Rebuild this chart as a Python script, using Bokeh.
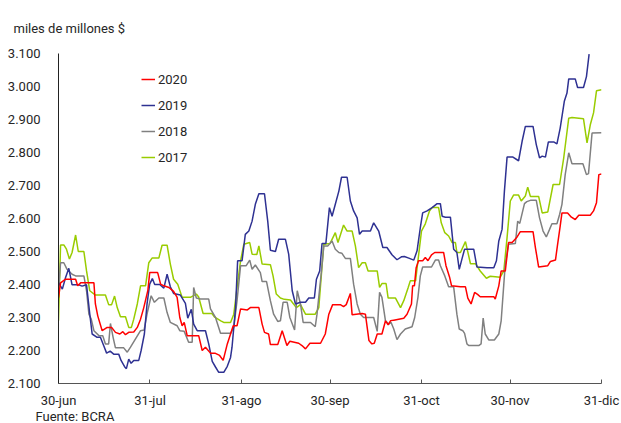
from bokeh.plotting import figure
from bokeh.models import FixedTicker, Legend, LegendItem, Range1d, Title
from bokeh.embed import file_html
from bokeh.resources import INLINE

# x = days since 30-jun
x_ticks = [0, 31, 62, 92, 123, 153, 184]
x_labels = ["30-jun", "31-jul", "31-ago", "30-sep", "31-oct", "30-nov", "31-dic"]
y_ticks = [2100, 2200, 2300, 2400, 2500, 2600, 2700, 2800, 2900, 3000, 3100]
y_labels = ["2.100", "2.200", "2.300", "2.400", "2.500", "2.600", "2.700", "2.800", "2.900", "3.000", "3.100"]

days_2020 = [0, 0.7, 2.4, 5.8, 6.5, 7.5, 12, 12.5, 13.3, 14.8, 16.5, 18, 19.3, 20.8, 21.8, 22.7, 23.8, 25.5, 26.7, 27.8, 28.9, 30.3, 30.9, 33.6, 34.6, 35.7, 37.4, 39, 40.2, 41.1, 41.9, 42.6, 43.6, 47.5, 48.7, 49.8, 51.5, 53, 54.6, 55.8, 57.2, 58.3, 59.2, 60.5, 61.7, 64, 65, 67.9, 69, 69.8, 71.2, 71.8, 74.3, 75.8, 77.4, 78.4, 81.4, 82.5, 83.7, 85.2, 88.8, 90.4, 91.6, 92.9, 95.5, 96.6, 97.5, 98.9, 99.5, 102.9, 104, 104.6, 105.2, 106.2, 107, 108, 109.6, 110.8, 111.7, 112.5, 113.6, 117, 118.1, 119.6, 120, 120.6, 121.2, 122, 123.4, 124.3, 125.2, 126.4, 127.5, 130.5, 131.3, 132.5, 133.2, 136.2, 137.9, 138.7, 139.8, 141, 142, 142.9, 147.5, 148, 149.2, 150, 151.4, 152.5, 153.7, 154.5, 155.4, 156.5, 160.8, 161.6, 162.7, 165.8, 166.7, 168.4, 169.1, 170, 170.6, 172.5, 173.8, 175.1, 176.3, 180.2, 181.3, 182.3, 183.1, 184]
vals_2020 = [2360, 2405, 2416, 2416, 2396, 2405, 2405, 2341, 2305, 2260, 2270, 2270, 2255, 2250, 2257, 2248, 2255, 2256, 2270, 2295, 2330, 2383, 2436, 2436, 2401, 2396, 2391, 2379, 2361, 2300, 2275, 2285, 2245, 2245, 2200, 2210, 2192, 2192, 2185, 2170, 2220, 2250, 2275, 2275, 2326, 2323, 2330, 2330, 2280, 2255, 2250, 2218, 2218, 2260, 2215, 2228, 2222, 2215, 2205, 2222, 2222, 2250, 2310, 2339, 2339, 2333, 2339, 2373, 2308, 2312, 2310, 2270, 2230, 2220, 2222, 2250, 2250, 2290, 2278, 2290, 2292, 2298, 2310, 2341, 2396, 2396, 2451, 2472, 2472, 2482, 2472, 2490, 2497, 2497, 2457, 2423, 2396, 2393, 2393, 2359, 2341, 2376, 2370, 2363, 2363, 2356, 2396, 2441, 2441, 2527, 2527, 2535, 2544, 2560, 2560, 2512, 2453, 2457, 2470, 2474, 2520, 2577, 2617, 2617, 2604, 2597, 2610, 2610, 2623, 2648, 2733, 2735]

days_2019 = [0, 1.3, 2.4, 3.5, 4.6, 6.9, 8, 9.5, 10.6, 11.4, 13.1, 14.2, 15.3, 16.3, 17.5, 18.7, 20.4, 21.2, 22.4, 23, 23.8, 24.6, 25.5, 27.2, 28, 29.1, 30, 30.9, 31.8, 32.6, 34.3, 35.7, 36.8, 37.9, 39, 41.3, 43, 43.8, 45, 45.8, 47, 49.8, 50.9, 52.1, 53.2, 54.3, 56, 57.2, 58.3, 58.8, 60, 60.7, 62.2, 63.3, 64.5, 65.6, 66.7, 67.9, 69.8, 70.9, 71.8, 73.5, 74.6, 76.9, 78, 79.2, 80.3, 82, 83.7, 84.8, 86.7, 87.4, 88.5, 89.3, 90.6, 91.8, 92.7, 93.8, 95, 95.9, 97.8, 98.9, 100, 101.2, 102, 102.9, 105.7, 106.8, 108.5, 109.9, 111.3, 113, 114.7, 116.2, 117.2, 118.7, 120.4, 121.5, 122.6, 123.4, 124.9, 126.6, 128.3, 129.4, 130, 131.1, 132.8, 133.9, 135, 135.8, 136.7, 137.6, 140.7, 141.8, 145.2, 147.5, 148.4, 149.2, 150.3, 151.1, 152, 154, 155.9, 157.1, 158.2, 160.8, 161.9, 163, 163.9, 165, 166, 167.8, 168.9, 170, 171.4, 172.3, 172.9, 175.1, 175.9, 177.9, 178.9, 179.8]
vals_2019 = [2406, 2386, 2421, 2449, 2399, 2399, 2395, 2399, 2310, 2250, 2240, 2240, 2215, 2192, 2198, 2189, 2189, 2170, 2151, 2145, 2174, 2161, 2170, 2170, 2200, 2250, 2341, 2401, 2418, 2400, 2400, 2389, 2431, 2393, 2373, 2368, 2343, 2298, 2325, 2280, 2260, 2260, 2220, 2167, 2150, 2134, 2134, 2152, 2179, 2210, 2330, 2472, 2472, 2552, 2562, 2592, 2643, 2675, 2675, 2592, 2504, 2500, 2537, 2537, 2492, 2381, 2341, 2346, 2346, 2359, 2359, 2416, 2441, 2524, 2524, 2633, 2607, 2643, 2683, 2725, 2725, 2653, 2623, 2602, 2552, 2562, 2562, 2587, 2562, 2512, 2512, 2490, 2475, 2484, 2485, 2480, 2474, 2502, 2572, 2617, 2623, 2633, 2645, 2645, 2607, 2604, 2604, 2507, 2497, 2446, 2477, 2507, 2507, 2453, 2451, 2451, 2472, 2532, 2567, 2683, 2786, 2786, 2775, 2834, 2879, 2879, 2824, 2784, 2789, 2786, 2832, 2832, 2826, 2874, 2955, 2980, 3023, 3023, 2997, 2997, 3030, 3098]

days_2018 = [0, 0.7, 1.8, 2.9, 4.6, 5.8, 8.6, 9.5, 10.3, 11.1, 12, 13.7, 15, 15.9, 17, 17.6, 18.5, 19.3, 22.1, 23.3, 24.4, 26.1, 27.8, 29, 30, 31.4, 32.5, 34, 35.7, 36.8, 37.9, 40.2, 41.1, 42.6, 44.1, 45.3, 45.8, 46.7, 48.1, 50.9, 51.5, 53.2, 54.9, 58.3, 59.4, 60.5, 61.7, 63.6, 64.8, 65.6, 66.7, 68.4, 69, 70.5, 71.8, 72.9, 74.3, 75.2, 76.1, 77.5, 78.4, 80, 80.9, 82, 82.9, 85.4, 87, 87.6, 89, 89.9, 91.3, 92.7, 93.8, 95, 96, 97.2, 98.9, 100, 101.2, 102.3, 103.4, 106.8, 108, 108.8, 109.6, 110.8, 111.9, 112.7, 113.6, 114.7, 115.9, 117.5, 119.8, 120.7, 121.8, 122.6, 123.4, 126.4, 127.7, 128.8, 129.4, 130.9, 132.2, 133.9, 135, 135.8, 137, 137.6, 138.4, 139, 142.4, 143.2, 143.9, 144.6, 145.8, 147.7, 149.2, 150, 150.9, 151.4, 152.5, 154.8, 155.6, 156.3, 157.9, 158.7, 159.9, 161.9, 163, 164.2, 165.3, 166.4, 167.2, 168.9, 169.8, 170.6, 171.7, 172.9, 174, 177.7, 178.9, 179.6, 180.8, 184]
vals_2018 = [2380, 2466, 2466, 2446, 2431, 2426, 2426, 2381, 2310, 2295, 2260, 2245, 2245, 2220, 2220, 2282, 2240, 2208, 2208, 2195, 2210, 2235, 2260, 2262, 2310, 2366, 2346, 2359, 2359, 2315, 2285, 2275, 2260, 2258, 2225, 2225, 2391, 2359, 2356, 2356, 2326, 2300, 2252, 2252, 2270, 2351, 2457, 2457, 2474, 2446, 2459, 2436, 2409, 2409, 2351, 2310, 2288, 2290, 2346, 2346, 2300, 2262, 2381, 2341, 2285, 2285, 2272, 2310, 2431, 2517, 2517, 2532, 2507, 2497, 2495, 2479, 2479, 2401, 2341, 2310, 2300, 2300, 2258, 2376, 2361, 2290, 2280, 2285, 2265, 2233, 2250, 2265, 2272, 2300, 2361, 2426, 2453, 2453, 2474, 2474, 2457, 2426, 2393, 2393, 2310, 2265, 2260, 2252, 2220, 2215, 2215, 2220, 2298, 2250, 2232, 2232, 2250, 2290, 2401, 2462, 2522, 2524, 2592, 2585, 2645, 2651, 2655, 2655, 2602, 2562, 2544, 2567, 2584, 2584, 2612, 2643, 2733, 2799, 2766, 2766, 2733, 2736, 2859, 2860]

days_2017 = [0, 0.7, 1.8, 2.7, 3.7, 4.6, 5.8, 6.7, 8.6, 9.5, 10.6, 12.5, 15.9, 17, 18, 19, 19.9, 21, 22.7, 23.8, 24.7, 25.5, 26.7, 27.8, 29.5, 30.6, 31.7, 34, 35.1, 36.8, 37.9, 39, 40.4, 41.9, 44.7, 46.7, 47.5, 49, 52, 52.8, 55, 56, 58.3, 59.4, 60.5, 61.7, 62.8, 64.8, 65.6, 67.2, 67.9, 69, 71.8, 72.7, 73.8, 75.2, 76.5, 78.6, 80.6, 82, 83.7, 87, 88.2, 89, 89.9, 92, 93.8, 94.7, 96.6, 97.8, 99.5, 100.6, 101.7, 102.9, 104, 104.9, 108, 108.8, 109.6, 111, 111.7, 114.2, 115.9, 117, 118.5, 119.2, 121, 121.8, 123, 124.3, 125.7, 126.6, 128.8, 129.7, 130.9, 132.2, 133.4, 134.5, 135, 136.2, 137.9, 139.6, 141.3, 142.9, 145, 146.3, 149.7, 150.9, 152, 153.1, 154.2, 155.9, 156.8, 158.2, 159, 159.9, 162.7, 163.9, 165.8, 167.6, 169.8, 171.2, 172.9, 174, 177.9, 179.1, 180.2, 181.3, 182.3, 184]
vals_2017 = [2290, 2520, 2520, 2507, 2477, 2497, 2550, 2500, 2500, 2441, 2381, 2368, 2368, 2339, 2339, 2365, 2330, 2302, 2302, 2270, 2270, 2295, 2341, 2396, 2396, 2466, 2480, 2480, 2519, 2519, 2462, 2416, 2401, 2361, 2361, 2371, 2362, 2312, 2312, 2302, 2290, 2285, 2285, 2310, 2391, 2472, 2522, 2527, 2492, 2491, 2517, 2462, 2460, 2426, 2371, 2359, 2355, 2353, 2330, 2339, 2310, 2310, 2330, 2421, 2522, 2524, 2557, 2527, 2580, 2562, 2562, 2517, 2451, 2466, 2466, 2441, 2441, 2391, 2403, 2403, 2359, 2359, 2330, 2351, 2391, 2411, 2411, 2472, 2562, 2584, 2623, 2633, 2633, 2587, 2557, 2547, 2527, 2527, 2497, 2497, 2530, 2463, 2463, 2441, 2419, 2425, 2422, 2441, 2542, 2653, 2671, 2671, 2653, 2668, 2695, 2667, 2667, 2617, 2620, 2703, 2703, 2784, 2904, 2906, 2902, 2829, 2884, 2920, 2987, 2990]

FONT = "Roboto"
TXT = "#262626"

p = figure(width=621, height=423, output_backend="svg", toolbar_location=None,
           x_range=Range1d(0, 184), y_range=Range1d(2100, 3100),
           min_border_left=58, min_border_right=20, min_border_top=52, min_border_bottom=40)
p.background_fill_color = "white"
p.border_fill_color = "white"
p.outline_line_color = None
p.xgrid.visible = False
p.ygrid.visible = False

r17 = p.line(days_2017, vals_2017, line_color="#99cc00", line_width=1.5)
r18 = p.line(days_2018, vals_2018, line_color="#808080", line_width=1.5)
r19 = p.line(days_2019, vals_2019, line_color="#2e3192", line_width=1.5)
r20 = p.line(days_2020, vals_2020, line_color="#ff0000", line_width=1.5)

xa = p.xaxis[0]
xa.ticker = FixedTicker(ticks=x_ticks)
xa.major_label_overrides = dict(zip(x_ticks, x_labels))
xa.minor_tick_line_color = None
xa.major_tick_in = 4
xa.major_tick_out = 0
xa.major_tick_line_color = "#555555"
xa.axis_line_color = "#555555"
xa.major_label_standoff = 9
xa.major_label_text_font = FONT
xa.major_label_text_font_size = "13px"
xa.major_label_text_color = TXT

ya = p.yaxis[0]
ya.ticker = FixedTicker(ticks=y_ticks)
ya.major_label_overrides = dict(zip(y_ticks, y_labels))
ya.minor_tick_line_color = None
ya.major_tick_line_color = None
ya.axis_line_color = "#222222"
ya.major_label_standoff = 12
ya.major_label_text_font = FONT
ya.major_label_text_font_size = "13px"
ya.major_label_text_color = TXT

legend = Legend(items=[
    LegendItem(label="2020", renderers=[r20]),
    LegendItem(label="2019", renderers=[r19]),
    LegendItem(label="2018", renderers=[r18]),
    LegendItem(label="2017", renderers=[r17]),
], location=(83, 218), glyph_width=14, glyph_height=16, label_height=16,
    label_standoff=3, spacing=10, padding=0, margin=0,
    border_line_alpha=0, background_fill_alpha=0,
    label_text_font=FONT, label_text_font_size="13px", label_text_color=TXT)
p.add_layout(legend, "center")

p.title = Title(text="miles de millones $", align="left", offset=-45, standoff=36,
                text_font=FONT, text_font_size="13px", text_font_style="normal",
                text_color=TXT)
p.add_layout(Title(text="Fuente: BCRA", align="left", offset=-23, standoff=-8,
                   text_font=FONT, text_font_size="13px", text_font_style="normal",
                   text_color=TXT), "below")

open("out.html", "w").write(file_html(p, INLINE))
